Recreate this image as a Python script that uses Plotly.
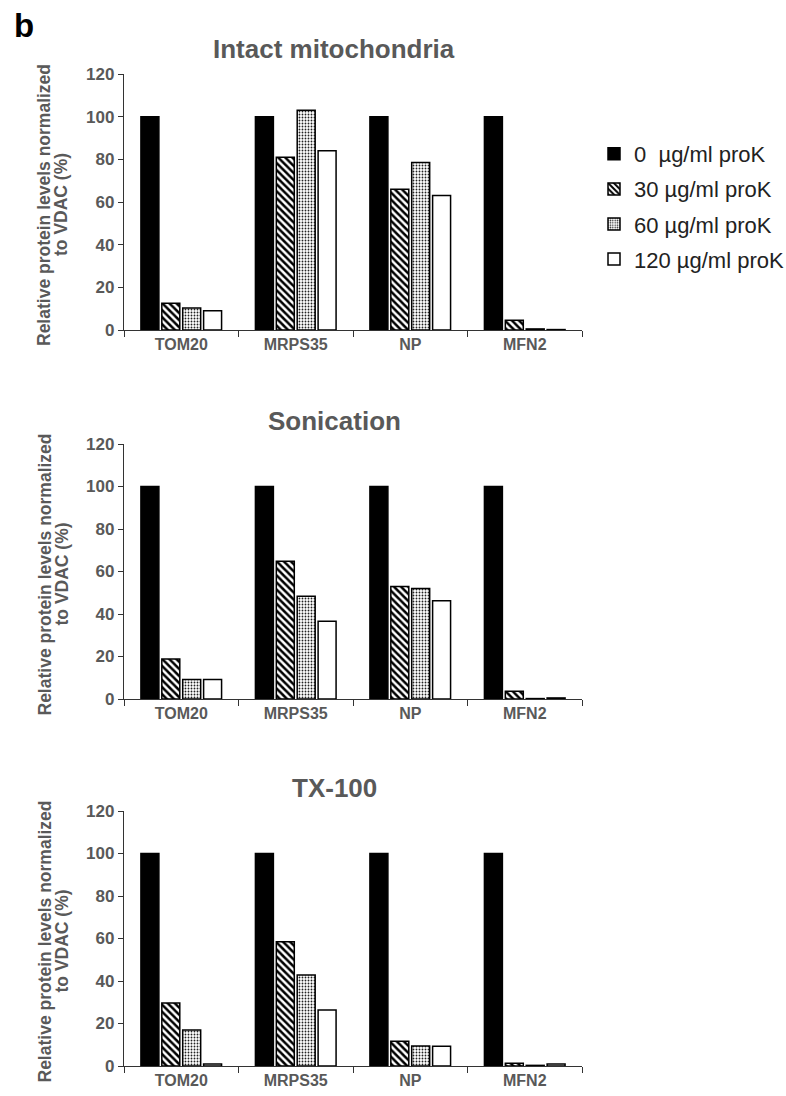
import plotly.graph_objects as go

W, H = 786, 1096
OFF = 0  # body margin removed via post_script, so figure pixel = screen pixel

categories = ["TOM20", "MRPS35", "NP", "MFN2"]
series_names = ["0  µg/ml proK", "30 µg/ml proK", "60 µg/ml proK", "120 µg/ml proK"]
panel_titles = ["Intact mitochondria", "Sonication", "TX-100"]
y_title_lines = ["Relative protein levels normalized", "to VDAC (%)"]

intact = [
    [100, 100, 100, 100],
    [12.5, 81, 66, 4.6],
    [10.3, 103, 78.5, 0.5],
    [9, 84, 63, 0.2],
]
sonication = [
    [100, 100, 100, 100],
    [18.8, 64.8, 53, 3.6],
    [9.2, 48.3, 52, 0.2],
    [9.2, 36.6, 46.2, 0.5],
]
tx100 = [
    [100, 100, 100, 100],
    [29.6, 58.5, 11.7, 1.3],
    [17, 42.8, 9.4, 0.3],
    [1, 26.3, 9.3, 0.9],
]
panels = [intact, sonication, tx100]

y_ticks = [0, 20, 40, 60, 80, 100, 120]

# screen-pixel geometry (top=120, bottom=0) per panel
panel_px = [(74, 330), (444, 699), (811, 1066)]
title_px = [49, 421, 788]
x_px = (124, 582)


def fx(px):
    return (px - OFF) / W


def fy(py):
    return 1 - (py - OFF) / H


styles = [
    dict(color="black", pattern=None),
    dict(color="white", pattern=dict(shape="\\", fgcolor="black", bgcolor="white",
                                     size=5, solidity=0.5, fillmode="replace")),
    dict(color="white", pattern=dict(shape=".", fgcolor="#222", bgcolor="white",
                                     size=3, solidity=0.3, fillmode="replace")),
    dict(color="white", pattern=None),
]

fig = go.Figure()
grey = "#595959"
axis_line = "#333333"
FONT = "Liberation Sans, Arial, sans-serif"

for p, data in enumerate(panels):
    xa = "x" if p == 0 else f"x{p+1}"
    ya = "y" if p == 0 else f"y{p+1}"
    for s, vals in enumerate(data):
        st = styles[s]
        marker = dict(color=st["color"], line=dict(color="black", width=1.5))
        marker["pattern"] = st["pattern"] if st["pattern"] else dict(shape="")
        fig.add_trace(go.Bar(
            x=categories, y=vals, name=series_names[s], marker=marker,
            xaxis=xa, yaxis=ya, showlegend=(p == 0), legendgroup=f"g{s}",
        ))

layout = dict(
    template="none",
    width=W, height=H, margin=dict(l=0, r=0, t=0, b=0, autoexpand=False),
    paper_bgcolor="white", plot_bgcolor="white",
    barmode="group", bargap=0.27, bargroupgap=0.14,
    font=dict(family=FONT, color=grey),
    legend=dict(x=fx(594), y=fy(133), xanchor="left", yanchor="top",
                font=dict(size=22, color="#222", family=FONT), tracegroupgap=3.5,
                itemwidth=30, bgcolor="rgba(0,0,0,0)", borderwidth=0),
    showlegend=True,
)

annotations = []
for p in range(3):
    top, bot = panel_px[p]
    suffix = "" if p == 0 else str(p + 1)
    layout["xaxis" + suffix] = dict(
        domain=[fx(x_px[0]), fx(x_px[1])], anchor="y" + suffix, automargin=False,
        showline=True, linecolor=axis_line, linewidth=1.3,
        ticks="outside", tickson="boundaries", ticklen=6, tickcolor=axis_line, tickwidth=1.3,
        tickfont=dict(size=16, color=grey, family=FONT),
        tickvals=categories, ticktext=[f"<b>{c}</b>" for c in categories],
        showgrid=False, zeroline=False, fixedrange=True,
    )
    # overlay axis to draw the upward half of the crossing boundary ticks
    layout[f"xaxis{p + 4}"] = dict(
        overlaying="x" + suffix, anchor="y" + suffix, automargin=False,
        range=[-0.5, len(categories) - 0.5], tickvals=[i + 0.5 for i in range(len(categories))],
        ticks="inside", ticklen=4, tickcolor=axis_line, tickwidth=1.3,
        showticklabels=False, showline=False, showgrid=False, zeroline=False,
        fixedrange=True,
    )
    layout["yaxis" + suffix] = dict(
        domain=[fy(bot), fy(top)], anchor="x" + suffix, automargin=False,
        range=[0, 120], tickvals=y_ticks, ticktext=[f"<b>{v}</b>" for v in y_ticks],
        showline=True, linecolor=axis_line, linewidth=1.3,
        ticks="outside", ticklen=5, tickcolor=axis_line, tickwidth=1.3,
        tickfont=dict(size=17, color=grey, family=FONT), showgrid=False, zeroline=False,
        fixedrange=True,
    )
    annotations.append(dict(
        text=f"<b>{panel_titles[p]}</b>", x=fx(334), y=fy(title_px[p]),
        xref="paper", yref="paper", xanchor="center", yanchor="middle",
        showarrow=False, font=dict(size=26, color=grey, family=FONT),
    ))
    yc = (top + bot) / 2 + 3
    for line, xc in zip(y_title_lines, [44, 61]):
        annotations.append(dict(
            text=f"<b>{line}</b>", x=fx(xc), y=fy(yc), textangle=-90,
            xref="paper", yref="paper", xanchor="center", yanchor="middle",
            showarrow=False, font=dict(size=17.5, color=grey, family=FONT),
        ))

annotations.append(dict(
    text="<b>b</b>", x=fx(12), y=fy(25), xref="paper", yref="paper",
    xanchor="left", yanchor="middle", showarrow=False,
    font=dict(size=33, color="black", family=FONT),
))
layout["annotations"] = annotations

fig.update_layout(**layout)
fig.write_html(
    "out.html",
    config={"displayModeBar": False},
    post_script="document.body.style.margin='0';document.body.style.overflow='hidden';",
)
